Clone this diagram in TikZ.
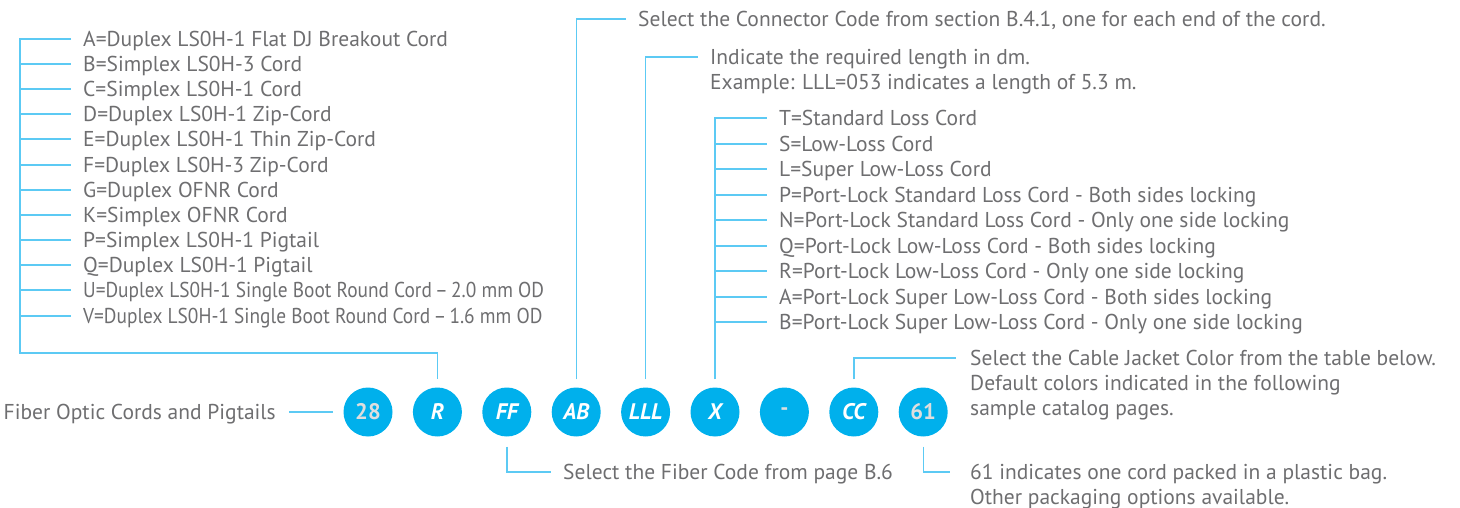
\documentclass[tikz,border=0pt]{standalone}
\usepackage{fontspec}
\setmainfont{PT Sans}
\usetikzlibrary{positioning}

\definecolor{codeblue}{RGB}{0,176,236}
\definecolor{leadblue}{RGB}{92,202,244}
\definecolor{txtgrey}{RGB}{110,110,112}
\definecolor{numgrey}{RGB}{222,222,222}

\tikzset{
    code/.style={circle, fill=codeblue, minimum size=49pt, inner sep=0pt,
        text=white, font=\fontsize{22.5}{22.5}\selectfont\bfseries\itshape},
    numcode/.style={code, text=numgrey, font=\fontsize{22.5}{22.5}\selectfont\bfseries},
    item/.style={anchor=west, inner ysep=0pt, inner xsep=12pt,
        text height=17pt, text depth=2pt, text=txtgrey,
        font=\fontsize{21.5}{25}\selectfont},
    note/.style={anchor=north west, inner sep=0pt, align=left, text=txtgrey,
        font=\fontsize{21.5}{25}\selectfont},
    lead/.style={draw=leadblue, line width=1.4pt},
}

\begin{document}
\begin{tikzpicture}[x=1pt, y=-1pt, node distance=69.4pt]
    \useasboundingbox (0,0) rectangle (1460,508);

    % code circles
    \node[numcode] (c28) at (368,412) {28};
    \node[code, right of=c28] (cR) {R};
    \node[code, right of=cR] (cFF) {FF};
    \node[code, right of=cFF] (cAB) {AB};
    \node[code, right of=cAB] (cLLL) {LLL};
    \node[code, right of=cLLL] (cX) {X};
    \node[numcode, right of=cX] (cdash) {-};
    \node[code, right of=cdash] (cCC) {CC};
    \node[numcode, right of=cCC] (c61) {61};

    % product family
    \node[item, anchor=east, inner xsep=13pt] (family) at (289,412) {Fiber Optic Cords and Pigtails};
    \draw[lead, shorten >=10pt] (family.east) -- (c28.west);

    % cord types
    \coordinate (lbend) at (20,353);
    \node[item] (la) at (71,39) {A=Duplex LS0H-1 Flat DJ Breakout Cord};
    \node[item] (lb) at (71,64) {B=Simplex LS0H-3 Cord};
    \node[item] (lc) at (71,89) {C=Simplex LS0H-1 Cord};
    \node[item] (ld) at (71,114) {D=Duplex LS0H-1 Zip-Cord};
    \node[item] (le) at (71,139) {E=Duplex LS0H-1 Thin Zip-Cord};
    \node[item] (lf) at (71,165) {F=Duplex LS0H-3 Zip-Cord};
    \node[item] (lg) at (71,190) {G=Duplex OFNR Cord};
    \node[item] (lk) at (71,215) {K=Simplex OFNR Cord};
    \node[item] (lp) at (71,240) {P=Simplex LS0H-1 Pigtail};
    \node[item] (lq) at (71,265) {Q=Duplex LS0H-1 Pigtail};
    \node[item] (lu) at (71,290) {\scalebox{0.9}[1]{U=Duplex LS0H-1 Single Boot Round Cord\,--\,2.0 mm OD}};
    \node[item] (lv) at (71,316) {\scalebox{0.9}[1]{V=Duplex LS0H-1 Single Boot Round Cord\,--\,1.6 mm OD}};
    \draw[lead, shorten >=8pt] (la.west) -| (lbend) -| (cR.north);
    \draw[lead] (lb.west -| lbend) -- (lb.west);
    \draw[lead] (lc.west -| lbend) -- (lc.west);
    \draw[lead] (ld.west -| lbend) -- (ld.west);
    \draw[lead] (le.west -| lbend) -- (le.west);
    \draw[lead] (lf.west -| lbend) -- (lf.west);
    \draw[lead] (lg.west -| lbend) -- (lg.west);
    \draw[lead] (lk.west -| lbend) -- (lk.west);
    \draw[lead] (lp.west -| lbend) -- (lp.west);
    \draw[lead] (lq.west -| lbend) -- (lq.west);
    \draw[lead] (lu.west -| lbend) -- (lu.west);
    \draw[lead] (lv.west -| lbend) -- (lv.west);

    % fiber code
    \node[item] (fiber) at (551,472) {Select the Fiber Code from page B.6};
    \draw[lead, shorten <=10pt] (cFF.south) |- (fiber.west);

    % connector code
    \node[item] (conn) at (626,19) {Select the Connector Code from section B.4.1, one for each end of the cord.};
    \draw[lead, shorten <=8pt] (cAB.north) |- (conn.west);

    % length
    \coordinate (lenhook) at (698,57);
    \node[note] (len) at ([shift={(12,-10)}]lenhook) {\strut Indicate the required length in dm.\\Example: LLL=053 indicates a length of 5.3 m.};
    \draw[lead, shorten <=8pt] (cLLL.north) |- (lenhook);

    % loss grade
    \node[item] (xt) at (767,118) {T=Standard Loss Cord};
    \node[item] (xs) at (767,144) {S=Low-Loss Cord};
    \node[item] (xl) at (767,169) {L=Super Low-Loss Cord};
    \node[item] (xp) at (767,195) {P=Port-Lock Standard Loss Cord - Both sides locking};
    \node[item] (xn) at (767,220) {N=Port-Lock Standard Loss Cord - Only one side locking};
    \node[item] (xq) at (767,246) {Q=Port-Lock Low-Loss Cord - Both sides locking};
    \node[item] (xr) at (767,271) {R=Port-Lock Low-Loss Cord - Only one side locking};
    \node[item] (xa) at (767,297) {A=Port-Lock Super Low-Loss Cord - Both sides locking};
    \node[item] (xb) at (767,322) {B=Port-Lock Super Low-Loss Cord - Only one side locking};
    \draw[lead, shorten <=8pt] (cX.north) |- (xt.west);
    \draw[lead] (xs.west -| cX) -- (xs.west);
    \draw[lead] (xl.west -| cX) -- (xl.west);
    \draw[lead] (xp.west -| cX) -- (xp.west);
    \draw[lead] (xn.west -| cX) -- (xn.west);
    \draw[lead] (xq.west -| cX) -- (xq.west);
    \draw[lead] (xr.west -| cX) -- (xr.west);
    \draw[lead] (xa.west -| cX) -- (xa.west);
    \draw[lead] (xb.west -| cX) -- (xb.west);

    % jacket colour
    \coordinate (colhook) at (956,358);
    \node[note] (col) at ([shift={(14,-10)}]colhook) {\strut Select the Cable Jacket Color from the table below.\\Default colors indicated in the following\\sample catalog pages.};
    \draw[lead, shorten <=8pt] (cCC.north) |- (colhook);

    % packaging
    \coordinate (baghook) at (950,472);
    \node[note] (bag) at ([shift={(20,-10)}]baghook) {\strut 61 indicates one cord packed in a plastic bag.\\Other packaging options available.};
    \draw[lead, shorten <=10pt] (c61.south) |- (baghook);
\end{tikzpicture}
\end{document}
